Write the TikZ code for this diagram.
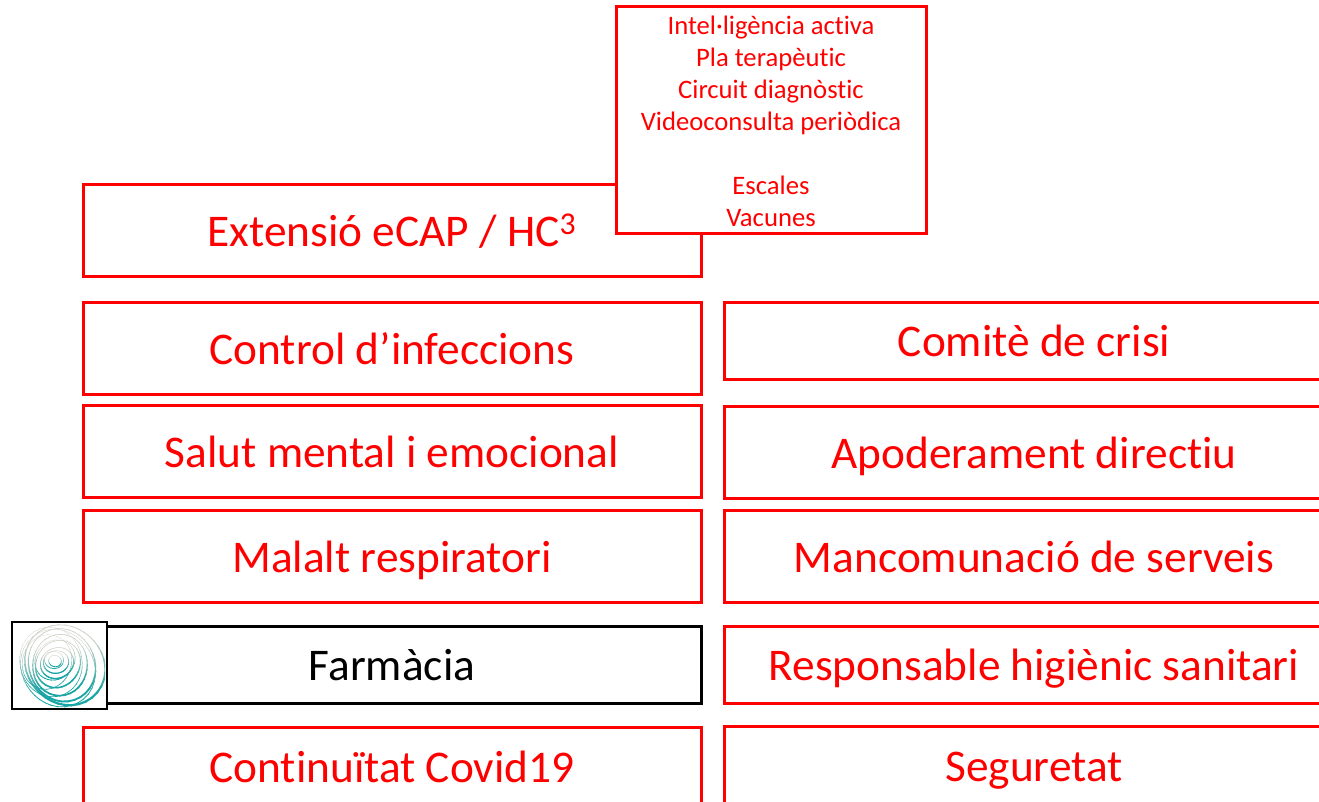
\documentclass[tikz,border=0pt]{standalone}
\usepackage{fontspec}
\setmainfont{Carlito}[Ligatures=CommonOff]
\def\ux{0.75pt}
\definecolor{boxred}{RGB}{255,0,0}
\definecolor{logoA}{RGB}{208,208,196}
\definecolor{logoB}{RGB}{25,165,165}
\tikzset{
 plainbox/.style={draw,fill=white,line width=2.25pt,inner sep=0pt,outer sep=0pt,font=\fontsize{34}{40}\selectfont,text height=24.5pt,text depth=0pt},
 redbox/.style={plainbox,draw=boxred,text=boxred},
 blackbox/.style={plainbox,draw=black,text=black},
 listbox/.style={draw=boxred,text=boxred,fill=white,line width=2.25pt,inner sep=0pt,outer sep=0pt,align=center,font=\fontsize{20}{24}\selectfont},
 logoframe/.style={draw=black,fill=white,line width=2pt,inner sep=0pt,outer sep=0pt}
}
\begin{document}
\begin{tikzpicture}[x=0.75pt,y=-0.75pt]
\useasboundingbox (0,0) rectangle (1319,801);
\clip (0,0) rectangle (1319,801);
% left column
\node[redbox,minimum width=618*\ux,minimum height=92*\ux] (ext) at (392,230) {Extensió eCAP / HC\textsuperscript{3}};
\node[redbox,minimum width=618*\ux,minimum height=92*\ux] (ctrl) at (392,348) {Control d’infeccions};
\node[redbox,minimum width=618*\ux,minimum height=92*\ux] (salut) at (392,451) {Salut mental i emocional};
\node[redbox,minimum width=618*\ux,minimum height=92*\ux] (malalt) at (392,556) {Malalt respiratori};
\node[blackbox,minimum width=618*\ux,minimum height=77*\ux] (farm) at (392,664.5) {Farmàcia};
\node[redbox,minimum width=618*\ux,minimum height=78*\ux] (cont) at (392,766) {Continuïtat Covid19};
% right column
\node[redbox,minimum width=620*\ux,minimum height=77*\ux] (comite) at (1034,340.5) {Comitè de crisi};
\node[redbox,minimum width=620*\ux,minimum height=92*\ux] (apod) at (1034,452) {Apoderament directiu};
\node[redbox,minimum width=620*\ux,minimum height=92*\ux] (manc) at (1034,556) {Mancomunació de serveis};
\node[redbox,minimum width=620*\ux,minimum height=77*\ux] (resp) at (1034,664.5) {Responsable higiènic sanitari};
\node[redbox,minimum width=620*\ux,minimum height=78*\ux] (seg) at (1034,765) {Seguretat};
% list box
\node[listbox,minimum width=310*\ux,minimum height=227*\ux] (llista) at (771,119.5) {\rule{0pt}{17pt}Intel·ligència activa\\Pla terapèutic\\Circuit diagnòstic\\Videoconsulta periòdica\\[24pt]Escales\\Vacunes};
% logo
\node[logoframe,minimum width=95*\ux,minimum height=87*\ux] (logo) at (59.5,665.5) {};
\begin{scope}
\clip (14,624) rectangle (105,707);
\foreach \r/\cx/\cy/\w in {6/55/661/0.5,9/54/660/0.4,12/56/662/0.7,16/57/663/0.8,20/55/660/0.5,23/58/664/0.9,29/60/665/1.0,35/62/665/1.1,40/65/665/1.3,33/51/662/0.35,26/47/662/0.35,38/58/668/0.5}{
 \foreach \a in {0,10,...,350}{
  \pgfmathsetmacro\m{max(0,min(100,45+75*sin(\a+10)))}
  \pgfmathsetmacro\lw{\w*(0.45+0.8*\m/100)}
  \pgfmathsetmacro\ee{\r*(1+0.06*sin(2*\a+\r*9))}
  \pgfmathsetmacro\eb{\r*(1+0.06*sin(2*(\a+11)+\r*9))}
  \draw[color=logoB!\m!logoA,line width=\lw pt,line cap=round]
    ({\cx+\ee*cos(\a)},{\cy+\ee*sin(\a)}) -- ({\cx+\eb*cos(\a+11)},{\cy+\eb*sin(\a+11)});
 }
}
\end{scope}
\end{tikzpicture}
\end{document}
